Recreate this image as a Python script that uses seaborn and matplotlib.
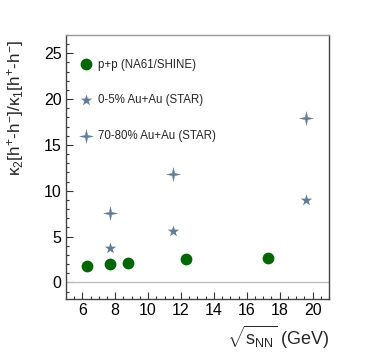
import matplotlib
matplotlib.use("Agg")
import matplotlib.pyplot as plt
import seaborn as sns
import numpy as np
from matplotlib.path import Path
from matplotlib.ticker import MultipleLocator

sns.set_theme(style="white")
plt.rcParams['font.family'] = ['Liberation Sans', 'DejaVu Sans']
plt.rcParams['mathtext.fontset'] = 'custom'
plt.rcParams['mathtext.rm'] = 'Liberation Sans'
plt.rcParams['mathtext.it'] = 'Liberation Sans'
plt.rcParams['mathtext.bf'] = 'Liberation Sans:bold'

# Data
pp_energy = [6.3, 7.7, 8.8, 12.3, 17.3]
pp_ratio = [1.81, 2.03, 2.18, 2.51, 2.65]
central_energy = [7.7, 11.5, 19.6]
central_ratio = [3.78, 5.6, 8.98]
periph_energy = [7.7, 11.5, 19.6]
periph_ratio = [7.53, 11.8, 17.9]
labels = ["p+p (NA61/SHINE)", "0-5% Au+Au (STAR)", "70-80% Au+Au (STAR)"]

green = "#006600"
steel = "#5f7c96"

# thin four-pointed star marker
_ang = np.deg2rad(np.arange(0, 360, 45) + 90)
_rad = np.array([1.0, 0.24] * 4)
_verts = np.column_stack([_rad * np.cos(_ang), _rad * np.sin(_ang)])
_verts = np.vstack([_verts, _verts[:1]])
star4 = Path(_verts, [Path.MOVETO] + [Path.LINETO] * 7 + [Path.CLOSEPOLY])

fig = plt.figure(figsize=(3.66, 3.53), dpi=100)
ax = fig.add_axes([0.180, 0.153, 0.719, 0.748])

ax.axhline(0, color="#bbbbbb", lw=0.9, zorder=1)

sns.scatterplot(x=pp_energy, y=pp_ratio, ax=ax, marker="o", s=72, color=green,
                edgecolor=green, linewidth=0, label=labels[0], zorder=3)
sns.scatterplot(x=central_energy, y=central_ratio, ax=ax, marker="*", s=75, color=steel,
                edgecolor=steel, linewidth=0, label=labels[1], zorder=3)
sns.scatterplot(x=periph_energy, y=periph_ratio, ax=ax, marker=star4, s=95, color=steel,
                edgecolor=steel, linewidth=0.3, label=labels[2], zorder=3)

ax.set_xlim(5, 21)
ax.set_ylim(-1.8, 27)
ax.xaxis.set_major_locator(MultipleLocator(2))
ax.xaxis.set_minor_locator(MultipleLocator(0.5))
ax.yaxis.set_major_locator(MultipleLocator(5))
ax.yaxis.set_minor_locator(MultipleLocator(1))
ax.tick_params(axis="both", which="both", direction="in", color="#333333",
               bottom=True, left=True, top=False, right=False, labelsize=11.5,
               labelcolor="black")
ax.tick_params(which="major", length=5, width=0.8, pad=3)
ax.tick_params(which="minor", length=2.5, width=0.8)

for side in ["left", "bottom", "right"]:
    ax.spines[side].set_color("#444444")
    ax.spines[side].set_linewidth(1.0)
ax.spines["top"].set_color("#999999")
ax.spines["top"].set_linewidth(1.0)

ax.set_ylabel("κ$_2$[h$^{+}$-h$^{-}$]/κ$_1$[h$^{+}$-h$^{-}$]", fontsize=12.3, labelpad=4,
              loc="top")
ax.yaxis.set_label_coords(-0.15, 0.98)
ax.set_xlabel(r"$\sqrt{s_{NN}}$ (GeV)", fontsize=13, loc="right", labelpad=4)

leg = ax.legend(loc="upper left", bbox_to_anchor=(0.01, 0.95), frameon=False,
                fontsize=8.3, labelspacing=2.05, handletextpad=0.45, borderaxespad=0.5,
                handlelength=1.2)

fig.savefig("out.png", dpi=100)
